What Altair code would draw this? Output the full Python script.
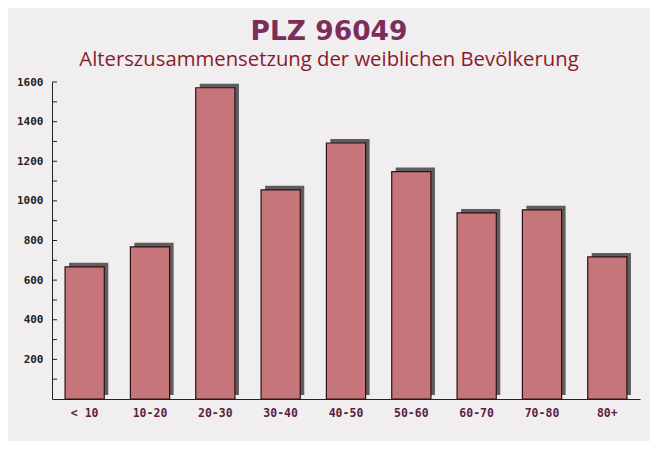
import altair as alt
import pandas as pd

categories = ["< 10", "10-20", "20-30", "30-40", "40-50", "50-60", "60-70", "70-80", "80+"]
values = [667, 768, 1571, 1056, 1292, 1148, 939, 955, 717]
y_ticks = list(range(100, 1700, 100))

df = pd.DataFrame({"Alter": categories, "Anzahl": values})
ticks_df = pd.DataFrame({"Anzahl": y_ticks})

xscale = alt.Scale(domain=categories, paddingInner=0.4, paddingOuter=0.2)
yscale = alt.Scale(domain=[0, 1600], nice=False)

xaxis = alt.Axis(labelAngle=0, ticks=False, labelPadding=8, domainColor="#222222",
                 labelColor="#5b1f45", labelFont="DejaVu Sans Mono", labelFontWeight="bold",
                 labelFontSize=11.5, title=None)
yaxis = alt.Axis(values=y_ticks, ticks=False, grid=False, labelPadding=9, domainColor="#222222",
                 labelExpr="datum.value % 200 == 0 ? format(datum.value, 'd') : ''",
                 labelColor="#222222", labelFont="DejaVu Sans Mono", labelFontWeight="bold",
                 labelFontSize=11, labelOverlap=False, title=None)

x = alt.X("Alter:N", sort=categories, scale=xscale, axis=xaxis)
y = alt.Y("Anzahl:Q", scale=yscale, axis=yaxis)

shadow = alt.Chart(df).mark_bar(color="#5e5e5e", xOffset=4, yOffset=-4, y2Offset=0).encode(x=x, y=y)
bars = alt.Chart(df).mark_bar(fill="#c6767b", stroke="#2a1212", strokeWidth=1.2).encode(x=x, y=y)
yt = alt.Chart(ticks_df).mark_rule(color="#222222").encode(
    y=y, x=alt.value(0), x2=alt.value(5)
)

chart = alt.layer(shadow, bars, yt).properties(
    width=588, height=317,
    autosize=alt.AutoSizeParams(type="none"),
    padding={"left": 44, "top": 74, "right": 10, "bottom": 42},
    background="#f1eeef",
    title=alt.TitleParams(
        text="PLZ 96049",
        subtitle="Alterszusammensetzung der weiblichen Bevölkerung",
        anchor="middle", dx=-17, offset=6,
        font="DejaVu Sans", fontSize=26.5, fontWeight="bold", color="#7b2e5c",
        subtitleFont="Open Sans", subtitleFontSize=20.3, subtitleColor="#8a1a2a",
        subtitlePadding=4,
    ),
).configure_view(stroke=None)

chart.save("out.html", embed_options={"renderer": "svg", "actions": False})
